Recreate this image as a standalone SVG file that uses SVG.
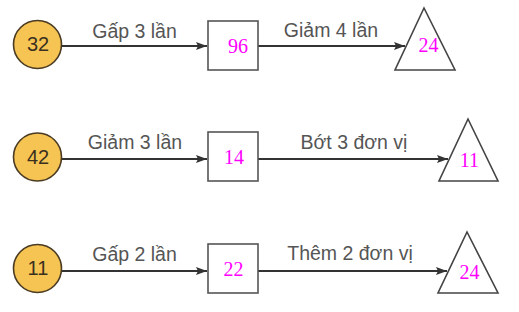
<svg xmlns="http://www.w3.org/2000/svg" width="519" height="312" viewBox="0 0 519 312">
  <defs>
    <marker id="arr" markerUnits="userSpaceOnUse" markerWidth="12" markerHeight="10" refX="11" refY="5" orient="auto">
      <path d="M0,1 L11,5 L0,9 L2,5 Z" fill="#333"/>
    </marker>
  </defs>
  <style>
    .circ { fill: #F6C452; stroke: #4a3b22; stroke-width: 1.6; }
    .box { fill: #fff; stroke: #555; stroke-width: 1.6; }
    .tri { fill: #fff; stroke: #444; stroke-width: 1.6; }
    .conn { stroke: #333; stroke-width: 2; fill: none; marker-end: url(#arr); }
    .cnum { font-family: "Liberation Sans", Arial, sans-serif; font-size: 20px; fill: #3a3020; text-anchor: middle; }
    .lbl { font-family: "Liberation Sans", Arial, sans-serif; font-size: 19.5px; fill: #555; text-anchor: middle; }
    .mnum { font-family: "Liberation Serif", "Times New Roman", serif; font-size: 20px; fill: #FF00FF; text-anchor: middle; }
  </style>
  <rect width="519" height="312" fill="#fff"/>
  <g id="connectors">
    <line class="conn" x1="62" y1="46" x2="207" y2="46"/>
    <line class="conn" x1="258" y1="46" x2="405" y2="46"/>
    <line class="conn" x1="62" y1="159" x2="207" y2="159"/>
    <line class="conn" x1="258" y1="159" x2="448" y2="159"/>
    <line class="conn" x1="62" y1="271" x2="207" y2="271"/>
    <line class="conn" x1="258" y1="271" x2="447" y2="271"/>
  </g>
  <g id="labels">
    <text class="lbl" x="134.5" y="38">Gấp 3 lần</text>
    <text class="lbl" x="331" y="37">Giảm 4 lần</text>
    <text class="lbl" x="135" y="149">Giảm 3 lần</text>
    <text class="lbl" x="354" y="149">Bớt 3 đơn vị</text>
    <text class="lbl" x="134.5" y="261">Gấp 2 lần</text>
    <text class="lbl" x="350" y="260">Thêm 2 đơn vị</text>
  </g>
  <g id="c1"><circle class="circ" cx="37.5" cy="44.5" r="24"/><text class="cnum" x="38" y="51">32</text></g>
  <g id="b1"><rect class="box" x="208" y="21" width="50" height="49"/><text class="mnum" x="238" y="53">96</text></g>
  <g id="t1"><polygon class="tri" points="424,8 395,70 455,70"/><text class="mnum" x="428.5" y="52">24</text></g>
  <g id="c2"><circle class="circ" cx="37.5" cy="157" r="24"/><text class="cnum" x="38" y="163.5">42</text></g>
  <g id="b2"><rect class="box" x="208" y="132" width="50" height="49"/><text class="mnum" x="234" y="164">14</text></g>
  <g id="t2"><polygon class="tri" points="468,119 439,181 498,181"/><text class="mnum" x="469.5" y="167">11</text></g>
  <g id="c3"><circle class="circ" cx="37.5" cy="268.5" r="24"/><text class="cnum" x="38" y="275">11</text></g>
  <g id="b3"><rect class="box" x="208" y="244" width="50" height="49"/><text class="mnum" x="233.5" y="276">22</text></g>
  <g id="t3"><polygon class="tri" points="467,232 438,293 498,293"/><text class="mnum" x="469.5" y="279">24</text></g>
</svg>
